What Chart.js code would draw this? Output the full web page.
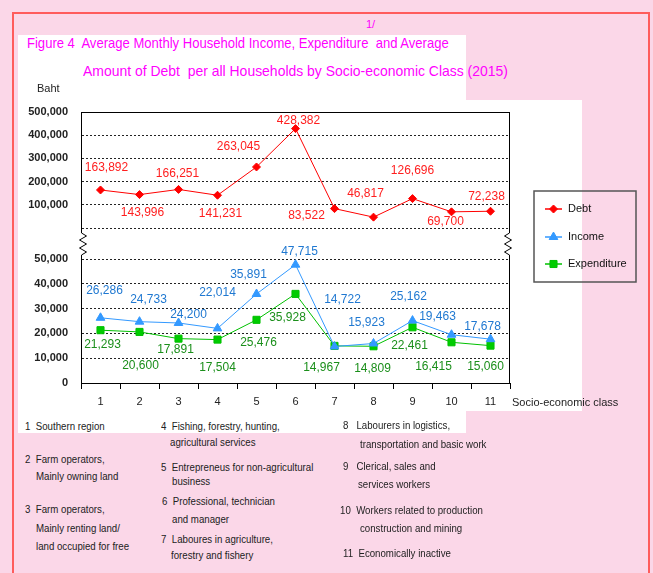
<!DOCTYPE html>
<html>
<head>
<meta charset="utf-8">
<script src="https://cdn.jsdelivr.net/npm/chart.js@4.4.1/dist/chart.umd.min.js"></script>
<style>
  body { margin: 0; width: 653px; height: 573px; background: #fbd7e8; position: relative; overflow: hidden;
         font-family: "Liberation Sans", Arial, sans-serif; }
  .frame { position: absolute; left: 12px; top: 12px; width: 634px; height: 600px; border: 2px solid #ff5c5c; }
  .white { position: absolute; background: #fff; }
  .t { position: absolute; white-space: pre; transform-origin: 0 0; }
  .title { color: #ff00ff; font-size: 15px; line-height: 18px; }
  .note { color: #222; font-size: 11px; line-height: 13px; transform: scaleX(0.88); }
  #wrap { position: absolute; left: 0; top: 0; }
</style>
</head>
<body>
<div class="frame"></div>
<div class="white" style="left:18px;top:35px;width:448px;height:66px"></div>
<div class="white" style="left:18px;top:100px;width:564px;height:311px"></div>
<div class="white" style="left:18px;top:410px;width:448px;height:23px"></div>

<div class="t" style="left:366px;top:18px;color:#ff00ff;font-size:11px">1/</div>
<div class="t title" style="left:27px;top:34px;transform:scaleX(0.87)">Figure 4  Average Monthly Household Income, Expenditure  and Average</div>
<div class="t title" style="left:83px;top:62px;transform:scaleX(0.93)">Amount of Debt  per all Households by Socio-economic Class (2015)</div>

<div id="wrap"><canvas id="chart" width="653" height="420"></canvas></div>

<div class="t note" style="left:25px;top:420px">1  Southern region</div>
<div class="t note" style="left:25px;top:453px">2  Farm operators,</div>
<div class="t note" style="left:36px;top:470px">Mainly owning land</div>
<div class="t note" style="left:25px;top:503px">3  Farm operators,</div>
<div class="t note" style="left:36px;top:522px">Mainly renting land/</div>
<div class="t note" style="left:36px;top:540px">land occupied for free</div>

<div class="t note" style="left:161px;top:420px">4  Fishing, forestry, hunting,</div>
<div class="t note" style="left:170px;top:436px">agricultural services</div>
<div class="t note" style="left:161px;top:461px">5  Entrepreneus for non-agricultural</div>
<div class="t note" style="left:172px;top:475px">business</div>
<div class="t note" style="left:162px;top:495px">6  Professional, technician</div>
<div class="t note" style="left:172px;top:513px">and manager</div>
<div class="t note" style="left:161px;top:533px">7  Laboures in agriculture,</div>
<div class="t note" style="left:171px;top:549px">forestry and fishery</div>

<div class="t note" style="left:343px;top:419px">8   Labourers in logistics,</div>
<div class="t note" style="left:360px;top:438px">transportation and basic work</div>
<div class="t note" style="left:343px;top:460px">9   Clerical, sales and</div>
<div class="t note" style="left:358px;top:478px">services workers</div>
<div class="t note" style="left:340px;top:504px">10  Workers related to production</div>
<div class="t note" style="left:360px;top:522px">construction and mining</div>
<div class="t note" style="left:343px;top:547px">11  Economically inactive</div>

<script>
// socio-economic classes on the x axis
const classes = ['1', '2', '3', '4', '5', '6', '7', '8', '9', '10', '11'];

// Baht per household per month
const debt = [163892, 143996, 166251, 141231, 263045, 428382, 83522, 46817, 126696, 69700, 72238];
const income = [26286, 24733, 24200, 22014, 35891, 47715, 14722, 15923, 25162, 19463, 17678];
const expenditure = [21293, 20600, 17891, 17504, 25476, 35928, 14967, 14809, 22461, 16415, 15060];

// label nudges (px) relative to each point, as placed in the original
const debtOff = [[6,-22],[3,18],[-1,-16],[3,18],[-18,-20],[3,-8],[-28,7],[-8,-23],[0,-28],[-6,10],[-4,-15]];
const incomeOff = [[4,-27],[9,-22],[10,-8],[0,-36],[-8,-19],[4,-13],[8,-47],[-7,-21],[-4,-24],[-14,-18],[-8,-12]];
const expOff = [[2,14],[1,34],[-3,11],[0,28],[2,23],[-8,24],[-13,22],[-1,22],[-3,18],[-18,24],[-5,21]];

const FONT = '"Liberation Sans", Arial, sans-serif';
const fmt = v => Number(v).toLocaleString('en-US');

// draw the value next to every point
const valueLabels = {
  id: 'valueLabels',
  afterDatasetsDraw(chart) {
    const ctx = chart.ctx;
    ctx.save();
    ctx.font = '12px ' + FONT;
    ctx.textAlign = 'center';
    ctx.textBaseline = 'middle';
    chart.data.datasets.forEach((ds, i) => {
      const meta = chart.getDatasetMeta(i);
      ctx.fillStyle = ds.labelColor;
      meta.data.forEach((pt, j) => {
        const off = ds.labelOffsets[j];
        ctx.fillText(fmt(ds.data[j]), pt.x + off[0], pt.y + off[1]);
      });
    });
    ctx.restore();
  }
};

// borders, axis breaks, extra texts and the boxed legend
const decor = {
  id: 'decor',
  afterDraw(chart) {
    const ctx = chart.ctx;
    const a = chart.chartArea;
    const yT = chart.scales.yTop, yB = chart.scales.yBot;
    ctx.save();
    ctx.strokeStyle = '#000';
    ctx.lineWidth = 1;
    const line = (pts) => {
      ctx.beginPath();
      pts.forEach((p, k) => k ? ctx.lineTo(p[0], p[1]) : ctx.moveTo(p[0], p[1]));
      ctx.stroke();
    };
    const L = Math.round(a.left) + 0.5, R = Math.round(a.right) - 0.5;
    line([[a.left, Math.round(yT.top) + 0.5], [a.right, Math.round(yT.top) + 0.5]]);
    line([[R, yT.top], [R, yT.bottom]]);
    line([[R, yB.top], [R, yB.bottom]]);
    // break marks between the two panels
    const g0 = yT.bottom, g1 = yB.top;
    line([[L, g0], [L, g0 + 5], [L + 5, g0 + 8], [L - 2, g0 + 12], [L + 5, g0 + 16], [L - 2, g0 + 20], [L + 5, g0 + 24], [L, g0 + 27], [L, g1]]);
    line([[R, g0], [R, g0 + 5], [R - 5, g0 + 8], [R + 2, g0 + 12], [R - 5, g0 + 16], [R + 2, g0 + 20], [R - 5, g0 + 24], [R, g0 + 27], [R, g1]]);

    ctx.fillStyle = '#222';
    ctx.font = '11px ' + FONT;
    ctx.textBaseline = 'middle';
    ctx.textAlign = 'left';
    ctx.fillText('Baht', 37, 89);
    ctx.fillText('Socio-economic class', 512, 403);

    // legend box
    ctx.strokeStyle = '#555';
    ctx.lineWidth = 1.5;
    ctx.strokeRect(534, 191, 102, 91);
    const rows = [209, 237, 264];
    ctx.font = '11px ' + FONT;
    chart.data.datasets.forEach((ds, i) => {
      const y = rows[i];
      ctx.strokeStyle = ds.borderColor;
      ctx.fillStyle = ds.pointBackgroundColor;
      ctx.lineWidth = 1.5;
      line([[545, y], [562, y]]);
      ctx.lineWidth = 1;
      Chart.helpers.drawPoint(ctx, {pointStyle: ds.pointStyle, radius: ds.pointRadius, rotation: 0, borderWidth: 1}, 553.5, y);
      ctx.fillStyle = '#111';
      ctx.fillText(ds.label, 568, y);
    });
    ctx.restore();
  }
};

const gridColor = hide => c => (c.tick && c.tick.value === hide) ? 'rgba(0,0,0,0)' : '#222';

const yTicks = {
  color: '#222',
  padding: 13,
  autoSkip: false,
  font: {family: FONT, size: 11, weight: 'bold'}
};

new Chart(document.getElementById('chart'), {
  type: 'line',
  data: {
    labels: classes,
    datasets: [
      {
        label: 'Debt', data: debt, yAxisID: 'yTop',
        borderColor: '#ff0000', backgroundColor: '#ff0000', pointBackgroundColor: '#ff0000',
        borderWidth: 1, pointStyle: 'rectRot', pointRadius: 4, pointBorderWidth: 1,
        labelColor: '#ff1e1e', labelOffsets: debtOff
      },
      {
        label: 'Income', data: income, yAxisID: 'yBot',
        borderColor: '#3399ff', backgroundColor: '#3399ff', pointBackgroundColor: '#3399ff',
        borderWidth: 1, pointStyle: 'triangle', pointRadius: 5, pointBorderWidth: 1,
        labelColor: '#1f78d1', labelOffsets: incomeOff
      },
      {
        label: 'Expenditure', data: expenditure, yAxisID: 'yBot',
        borderColor: '#00c000', backgroundColor: '#00cc00', pointBackgroundColor: '#00cc00',
        borderWidth: 1, pointStyle: 'rect', pointRadius: 5, pointBorderWidth: 1,
        labelColor: '#1b8f1b', labelOffsets: expOff
      }
    ]
  },
  options: {
    responsive: false,
    animation: false,
    devicePixelRatio: 1,
    layout: {padding: {top: 112, right: 143, bottom: 7, left: 0}},
    plugins: {legend: {display: false}, tooltip: {enabled: false}, title: {display: false}},
    scales: {
      x: {
        offset: true,
        grid: {offset: true, drawOnChartArea: false, drawTicks: true, tickLength: 6, color: '#000'},
        border: {color: '#000', width: 1},
        ticks: {color: '#222', padding: 6, maxRotation: 0, autoSkip: false, font: {family: FONT, size: 11}},
        afterFit(s) { s.height = 30; }
      },
      yTop: {
        position: 'left', stack: 'v', stackWeight: 116, weight: 3,
        min: 0, max: 500000,
        ticks: {...yTicks, stepSize: 100000, callback: v => v === 0 ? '' : fmt(v)},
        grid: {drawTicks: false, color: gridColor(500000)},
        border: {display: true, color: '#000', dash: [2, 2]},
        afterFit(s) { s.width = 81; }
      },
      yGap: {
        position: 'left', stack: 'v', stackWeight: 31, weight: 2,
        min: 0, max: 1,
        ticks: {display: false},
        grid: {display: false},
        border: {display: false},
        afterFit(s) { s.width = 81; }
      },
      yBot: {
        position: 'left', stack: 'v', stackWeight: 124, weight: 1,
        min: 0, max: 50000,
        ticks: {...yTicks, stepSize: 10000, callback: v => fmt(v)},
        grid: {drawTicks: false, color: gridColor(0)},
        border: {display: true, color: '#000', dash: [2, 2]},
        afterFit(s) { s.width = 81; }
      }
    }
  },
  plugins: [valueLabels, decor]
});
</script>
</body>
</html>
